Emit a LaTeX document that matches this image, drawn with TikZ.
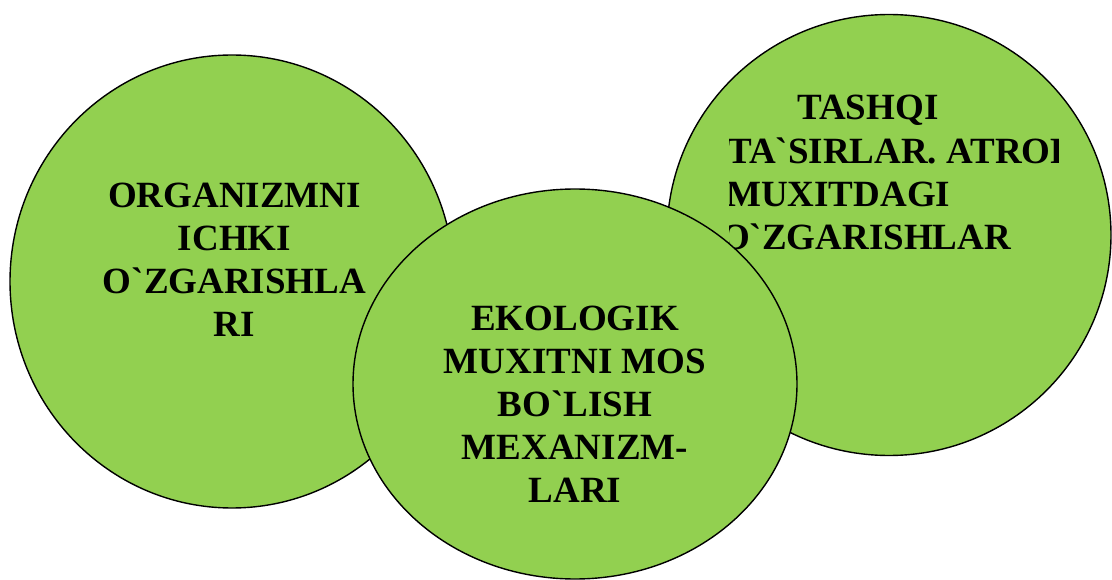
\documentclass[tikz,border=0pt]{standalone}
\usepackage{fontspec}
% plain backquote, no curly-quote substitution
\setmainfont{Liberation Serif}[Ligatures=TeXOff]
\usetikzlibrary{shapes.geometric}
\definecolor{leafgreen}{HTML}{92D050}
\begin{document}
\begin{tikzpicture}[x=1pt,y=-1pt,
  bubble/.style={ellipse, draw=black, line width=1.4pt, fill=leafgreen, inner sep=0pt},
  caption/.style={font=\fontsize{37}{43}\selectfont\bfseries, inner sep=0pt, text=black},
  lines/.style={caption, anchor=base}]
\useasboundingbox (0,0) rectangle (1112,580);

% left bubble: internal changes of the organism
\node[bubble, minimum width=444pt, minimum height=453pt] (inner) at (232,281.5) {};
\node[lines] (innertext) at (234.5,208) {\begin{tabular}[t]{@{}c@{}}ORGANIZMNI\\ICHKI\\O`ZGARISHLA\\RI\end{tabular}};

% right bubble: external influences, its text box clips the long lines
\node[bubble, minimum width=444pt, minimum height=441pt] (outer) at (889,235) {};
\begin{scope}
  \clip (729.3,70) rectangle (1058,270);
  \node[caption, anchor=base west] (ext1) at (797,120) {TASHQI};
  \node[caption, anchor=base west] (ext2) at (727,163.3) {TA`SIRLAR. ATROF};
  \node[caption, anchor=base west] (ext3) at (726,206.7) {MUXITDAGI};
  \node[caption, anchor=base west] (ext4) at (721,250) {O`ZGARISHLAR};
\end{scope}

% middle bubble: adaptation mechanisms
\node[bubble, minimum width=444pt, minimum height=390pt] (adapt) at (575,384) {};
\node[lines] (adapttext) at (575,330.7) {\begin{tabular}[t]{@{}c@{}}EKOLOGIK\\MUXITNI MOS\\BO`LISH\\MEXANIZM-\\LARI\end{tabular}};
\end{tikzpicture}
\end{document}
